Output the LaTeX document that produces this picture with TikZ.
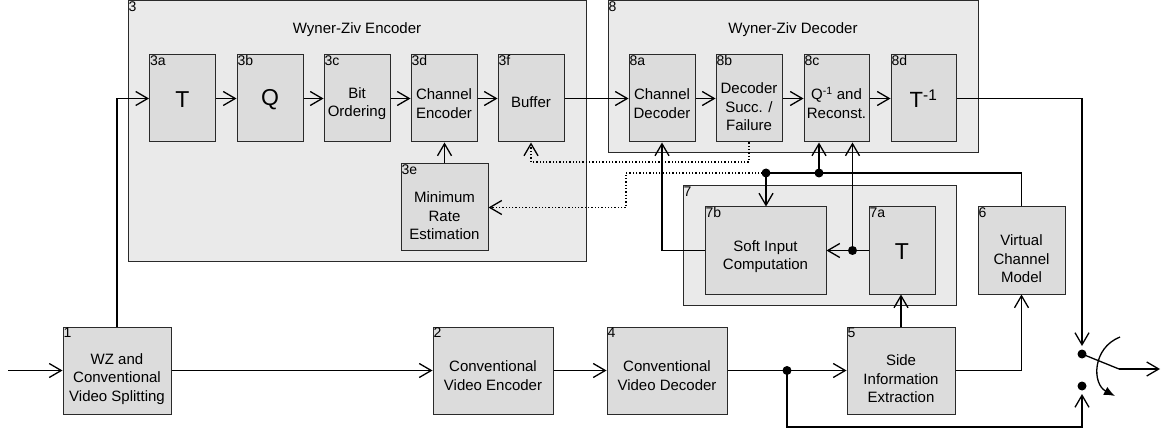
\documentclass[tikz,border=0pt]{standalone}
\usepackage{fontspec}
\setmainfont{Liberation Sans}
\usetikzlibrary{arrows.meta,calc}
\definecolor{outerfill}{HTML}{EAEAEA}
\definecolor{innerfill}{HTML}{DCDCDC}
\definecolor{edge}{HTML}{2A2A2A}
% extra room above the first line pushes the text down in its box
\newcommand{\padtop}[1]{\rule{0pt}{#1pt}}

\begin{document}
\begin{tikzpicture}[x=1pt, y=-1pt,
  group/.style={draw=edge, fill=outerfill, line width=1pt, inner sep=0pt},
  blk/.style={draw=edge, fill=innerfill, line width=1pt, align=center, inner sep=0pt,
    minimum width=66pt, minimum height=87pt, font=\fontsize{15}{18.5}\selectfont},
  big/.style={blk, font=\fontsize{23}{26}\selectfont},
  tag/.style={anchor=north west, inner sep=1pt, font=\fontsize{14}{16}\selectfont},
  title/.style={font=\fontsize{15}{18}\selectfont},
  wire/.style={line width=1.3pt, -{Straight Barb[length=12pt, width=14pt]}},
  line/.style={line width=1.3pt},
  dots/.style={wire, dotted},
]
\useasboundingbox (0,0) rectangle (1161,430);
% outer groups
\node[group, minimum width=458pt, minimum height=261pt] (g3) at (357,131.5) {};
\node[group, minimum width=370pt, minimum height=152pt] (g8) at (793,77) {};
\node[group, minimum width=273pt, minimum height=119pt] (g7) at (819.5,245.5) {};
\node[title] (n3) at (357,30) {Wyner-Ziv Encoder};
\node[title] (n8) at (793,30) {Wyner-Ziv Decoder};
% Wyner-Ziv encoder
\node[big] (b3a) at (182.5,98.5) {\padtop{19}T};
\node[big] (b3b) at (270,98.5) {\padtop{19}Q};
\node[blk] (b3c) at (357,98.5) {\padtop{21}Bit\\Ordering};
\node[blk] (b3d) at (444,98.5) {\padtop{21}Channel\\Encoder};
\node[blk] (b3f) at (531,98.5) {\padtop{19}Buffer};
\node[blk, minimum width=87pt] (b3e) at (444.5,207.5) {\padtop{28}Minimum\\Rate\\Estimation};
% Wyner-Ziv decoder
\node[blk] (b8a) at (662,98.5) {\padtop{21}Channel\\Decoder};
\node[blk] (b8b) at (749,98.5) {\padtop{28}Decoder\\Succ. /\\Failure};
\node[blk, minimum width=65pt] (b8c) at (836.5,98.5) {\padtop{21}Q\textsuperscript{-1} and\\Reconst.};
\node[blk, minimum width=65pt, font=\fontsize{22}{25}\selectfont] (b8d) at (923.5,98.5) {\padtop{19}T\textsuperscript{-1}};
% soft input group
\node[blk, minimum width=121pt] (b7b) at (765.5,250.5) {\padtop{23}Soft Input\\Computation};
\node[big] (b7a) at (902,250.5) {\padtop{19}T};
\node[blk, minimum width=87pt] (b6) at (1021.5,250.5) {\padtop{28}Virtual\\Channel\\Model};
% bottom row
\node[blk, minimum width=108pt] (b1) at (117,370.5) {\padtop{28}WZ and\\Conventional\\Video Splitting};
\node[blk, minimum width=120pt] (b2) at (493,370.5) {\padtop{21}Conventional\\Video Encoder};
\node[blk, minimum width=120pt] (b4) at (667,370.5) {\padtop{21}Conventional\\Video Decoder};
\node[blk, minimum width=108pt] (b5) at (901,370.5) {\padtop{28}Side\\Information\\Extraction};
% tags
\foreach \n/\t in {g3/3,g8/8,g7/7,b3a/3a,b3b/3b,b3c/3c,b3d/3d,b3e/3e,b3f/3f,b8a/8a,b8b/8b,b8c/8c,b8d/8d,b7a/7a,b7b/7b,b6/6,b1/1,b2/2,b4/4,b5/5}
  \node[tag] (t\t) at (\n.north west) {\t};
% junctions
\coordinate (in) at (8,370.5);
\coordinate (j4) at (787,370.5);
\coordinate (jb1) at (766,173);
\coordinate (jb2) at (819,173);
\coordinate (j7) at (852.5,250.5);
\coordinate (dl) at (626,173);
\coordinate (dm) at (531,162);
\coordinate (swA) at (1082,354);
\coordinate (swB) at (1082,386);
\coordinate (swC) at (1119,369);
\coordinate (out) at (1160,369);
\coordinate (sink) at (1082,427);
\coordinate (arcA) at (1120,337);
\coordinate (arcB) at (1115,396);
% connectors
\draw[wire] (in) -- (b1.west);
\draw[wire] (b1.north) |- (b3a.west);
\foreach \a/\b in {b3a/b3b,b3b/b3c,b3c/b3d,b3d/b3f,b3f/b8a,b8a/b8b,b8b/b8c,b8c/b8d}
  \draw[wire] (\a) -- (\b);
\draw[wire] (b3e.north) -- (b3e.north |- b3d.south);
\draw[dots] (b8b.south) |- (dm) -- (b3f.south);
\draw[dots] (jb1) -- (dl) |- (b3e.east);
\draw[line] (b6.north) |- (jb1);
\draw[wire] (jb1) -- (jb1 |- b7b.north);
\draw[wire] (jb2) -- (jb2 |- b8c.south);
\draw[line] (b7a.west) -- (j7);
\draw[wire] (j7) -- (b7b.east);
\draw[wire] (j7) -- (j7 |- b8c.south);
\draw[wire] (b7b.west) -| (b8a.south);
\draw[wire] (b5.north) -- (b5.north |- b7a.south);
\draw[wire] (b5.east) -| (b6.south);
\draw[wire] (b1) -- (b2);
\draw[wire] (b2) -- (b4);
\draw[line] (b4.east) -- (j4);
\draw[wire] (j4) -- (b5.west);
\draw[wire, shorten >=8pt] (j4) |- (sink) -- (swB);
\draw[wire, shorten >=8pt] (b8d.east) -| (swA);
% switch
\draw[line] (swA) -- (swC);
\draw[wire] (swC) -- (out);
\draw[line, -{Latex[length=11pt, width=9pt]}] (arcA) .. controls (1092,348) and (1092,384) .. (arcB);
\foreach \j in {j4,jb1,jb2,j7,swA,swB}
  \fill (\j) circle (4.5pt);
\end{tikzpicture}
\end{document}
